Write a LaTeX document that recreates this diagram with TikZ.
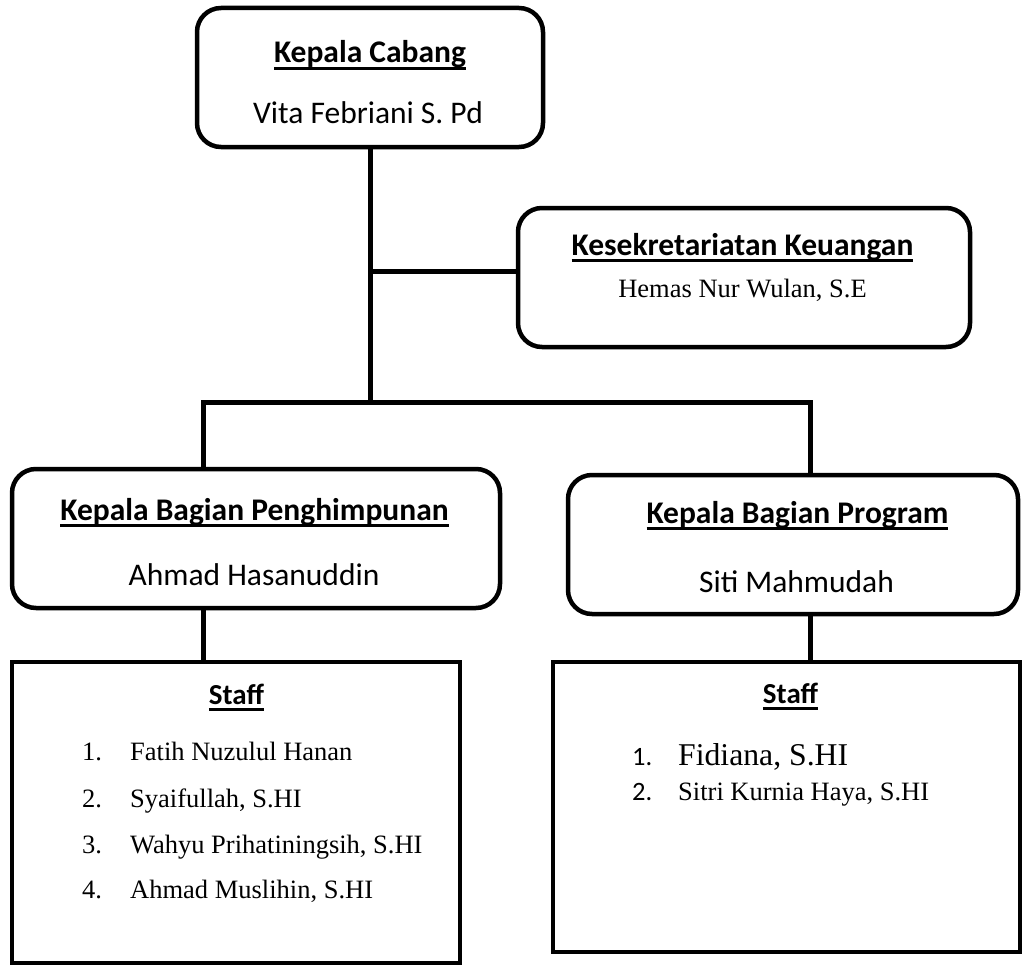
\documentclass[tikz,border=0pt]{standalone}
\usepackage{fontspec}
\setmainfont{Liberation Serif}
\newfontfamily\calibri{Carlito}
\usetikzlibrary{positioning}

% thick underline for the headings
\newcommand{\headul}[1]{\setbox0=\hbox{#1}\rlap{\vrule height -4pt depth 7pt width \wd0}\box0}

\begin{document}
\begin{tikzpicture}[x=1pt,y=-1pt,
unitbox/.style={
	% The shape:
	rectangle,rounded corners=24pt,inner sep=0pt,
	% The border:
	line width=4.5pt,draw=black,fill=white},
staffbox/.style={
	% The shape:
	rectangle,inner sep=0pt,
	% The border:
	line width=4.5pt,draw=black,fill=white},
headtext/.style={anchor=base,inner sep=0pt,
	font=\calibri\bfseries\fontsize{31.5}{38}\selectfont},
nametext/.style={anchor=base,inner sep=0pt,
	font=\calibri\fontsize{31.5}{38}\selectfont},
serifname/.style={anchor=base,inner sep=0pt,
	font=\fontsize{26.5}{32}\selectfont},
listitem/.style={anchor=base west,inner sep=0pt,
	font=\fontsize{26.5}{32}\selectfont},
link/.style={line width=5pt}]

\useasboundingbox (0,0) rectangle (1024,966);

%Boxes
\node (kc) [unitbox,minimum width=346pt,minimum height=139pt] at (370,77.5) {};
\node (ks) [unitbox,minimum width=452pt,minimum height=139pt] at (744,277.5) {};
\node (kbp) [unitbox,minimum width=488pt,minimum height=139pt] at (256,538.5) {};
\node (kbg) [unitbox,minimum width=450pt,minimum height=139pt] at (793,544.5) {};
\node (sl) [staffbox,minimum width=448pt,minimum height=301pt] at (236,812.5) {};
\node (sr) [staffbox,minimum width=467pt,minimum height=290pt] at (786.5,807) {};

%Texts in the boxes
\node (kcHead) [headtext] at (370,63) {\headul{Kepala Cabang}};
\node (kcName) [nametext] at (368,123) {Vita Febriani S. Pd};
\node (ksHead) [headtext] at (742.5,255) {\headul{Kesekretariatan Keuangan}};
\node (ksName) [serifname] at (742.5,297) {Hemas Nur Wulan, S.E};
\node (kbpHead) [headtext] at (254.5,520) {\headul{Kepala Bagian Penghimpunan}};
\node (kbpName) [nametext] at (254,585) {Ahmad Hasanuddin};
\node (kbgHead) [headtext] at (797.5,523) {\headul{Kepala Bagian Program}};
\node (kbgName) [nametext] at (796.5,592) {Siti Mahmudah};

% Staff lists
\node (slHead) [headtext,font=\calibri\bfseries\fontsize{29}{35}\selectfont] at (236.5,704) {\headul{Staff}};
\node (sl1) [listitem] at (82,760) {\makebox[48pt][l]{1.}Fatih Nuzulul Hanan};
\node (sl2) [listitem] at (82,807) {\makebox[48pt][l]{2.}Syaifullah, S.HI};
\node (sl3) [listitem] at (82,853) {\makebox[48pt][l]{3.}Wahyu Prihatiningsih, S.HI};
\node (sl4) [listitem] at (82,898) {\makebox[48pt][l]{4.}Ahmad Muslihin, S.HI};

\node (srHead) [headtext,font=\calibri\bfseries\fontsize{29}{35}\selectfont] at (790.5,703) {\headul{Staff}};
\node (sr1) [listitem] at (632,765) {\makebox[46pt][l]{\calibri 1.}{\fontsize{31.7}{38}\selectfont Fidiana, S.HI}};
\node (sr2) [listitem] at (632,800) {\makebox[46pt][l]{\calibri 2.}Sitri Kurnia Haya, S.HI};

%Connectors
\coordinate (jk) at (370,271);
\coordinate (bar) at (370,402);
\coordinate (bl) at (203,402);
\coordinate (br) at (810,402);

\draw[link] (kc.south) -- (bar);
\draw[link] (jk) -- (jk -| ks.west);
\draw[link] (bl |- kbp.north) -- (bl) -- (br) -- (br |- kbg.north);
\draw[link] (bl |- kbp.south) -- (bl |- sl.north);
\draw[link] (br |- kbg.south) -- (br |- sr.north);

\end{tikzpicture}
\end{document}
